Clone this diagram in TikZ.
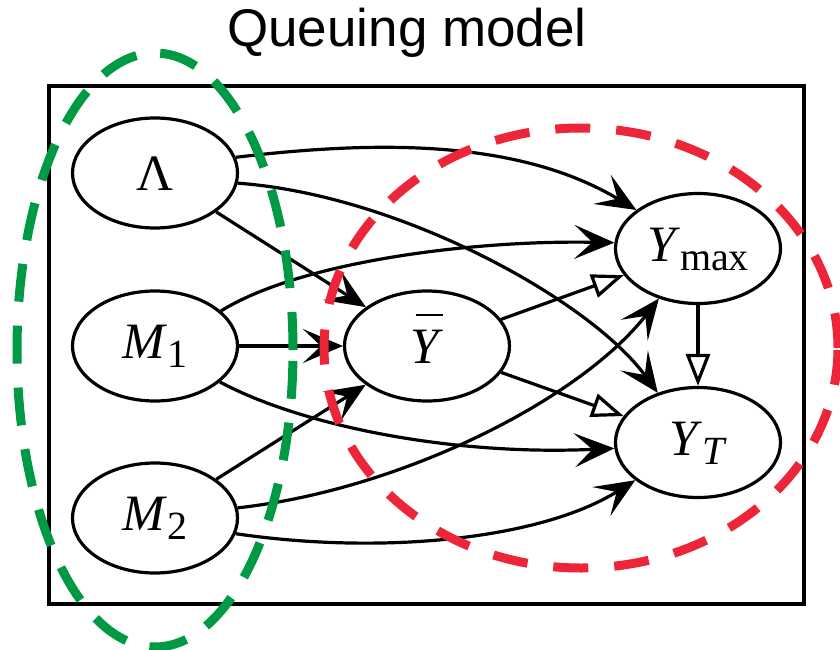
\documentclass[tikz,border=0pt]{standalone}
\usepackage{fontspec}
\setmainfont{Liberation Serif}
\newfontfamily\titlefont{Liberation Sans}
\usetikzlibrary{arrows.meta,shapes.geometric}
\definecolor{grpgreen}{RGB}{0,153,68}
\definecolor{grpred}{RGB}{236,38,56}
\newcommand\nsub[1]{\raisebox{-9pt}{\fontsize{40}{40}\selectfont #1}}
\begin{document}
\begin{tikzpicture}[x=1pt,y=-1pt,
  var/.style={draw, line width=3.2pt, ellipse, fill=white, minimum width=165pt, minimum height=110pt,
    inner sep=0pt, text height=34pt, text depth=0pt, font=\fontsize{51}{51}\selectfont},
  subvar/.style={var, text depth=9pt},
  edge/.style={line width=3.2pt, -{Stealth[length=40pt,width=34pt,inset=18pt]}},
  oedge/.style={line width=3.2pt, -{Triangle[open,length=32pt,width=24pt]}},
  grpdash/.style={line width=9pt, line cap=butt},
]
\useasboundingbox (0,0) rectangle (840,650);
\fill[white] (0,0) rectangle (840,650);

\node[font=\titlefont\fontsize{53}{53}\selectfont, anchor=base, inner sep=0pt] (title) at (407,47) {Queuing model};

\draw[line width=4pt] (49,86) rectangle (804,604);

\node[var] (lam) at (155,173) {Λ};
\node[subvar] (m1) at (155,346) {\textit{M}\nsub{1}};
\node[subvar] (m2) at (155,518) {\textit{M}\nsub{2}};
\node[var] (ybar) at (427,346) {\rlap{\hspace{5pt}\rule[47pt]{27pt}{2.5pt}}\textit{Y}};
\node[subvar] (ymax) at (698,248.5) {\textit{Y}\nsub{max}};
\node[subvar] (yt) at (698,442.5) {\textit{Y}\nsub{\textit{T}}};

% curved edges
\draw[edge] (lam.11) .. controls (380,140) and (520,140) .. (ymax.148);
\draw[edge] (lam.-7) .. controls (400,195) and (590,300) .. (yt.129);
\draw[edge] (m1.28) .. controls (300,262) and (470,240) .. (ymax.176);
\draw[edge] (m1.-29) .. controls (300,425) and (450,456) .. (yt.184);
\draw[edge] (m2.7) .. controls (400,490) and (580,400) .. (ymax.232);
\draw[edge] (m2.-11) .. controls (380,555) and (540,540) .. (yt.211);

% straight edges
\draw[edge] (lam) -- (ybar);
\draw[edge] (m1) -- (ybar);
\draw[edge] (m2) -- (ybar);
\draw[oedge] (ybar) -- (ymax);
\draw[oedge] (ybar) -- (yt);
\draw[oedge] (ymax) -- (yt);

% groups
\draw[grpdash, grpgreen, dash pattern=on 38pt off 24pt] (155,350) ellipse [x radius=138pt, y radius=297pt];
\draw[grpdash, grpred, dash pattern=on 35pt off 26pt] (581,348) ellipse [x radius=257pt, y radius=220pt];
\end{tikzpicture}
\end{document}
